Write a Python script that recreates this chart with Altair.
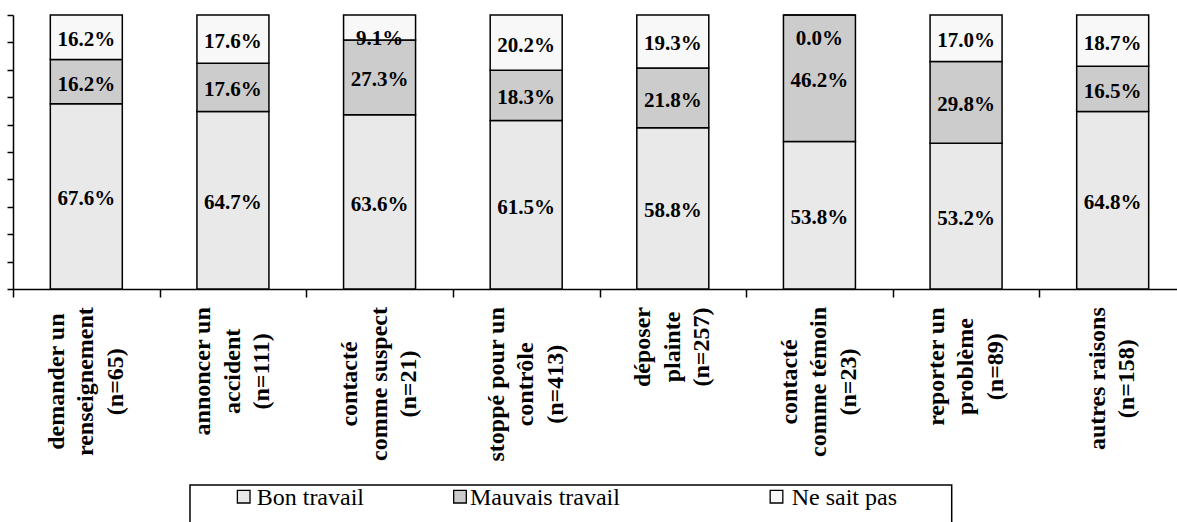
import altair as alt
import pandas as pd

# Categories (multi-line labels), series and values in percent
categories = [
    "demander un\nrenseignement\n(n=65)",
    "annoncer un\naccident\n(n=111)",
    "contacté\ncomme suspect\n(n=21)",
    "stoppé pour un\ncontrôle\n(n=413)",
    "déposer\nplainte\n(n=257)",
    "contacté\ncomme témoin\n(n=23)",
    "reporter un\nproblème\n(n=89)",
    "autres raisons\n(n=158)",
]
series = ["Bon travail", "Mauvais travail", "Ne sait pas"]
bon = [67.6, 64.7, 63.6, 61.5, 58.8, 53.8, 53.2, 64.8]
mauvais = [16.2, 17.6, 27.3, 18.3, 21.8, 46.2, 29.8, 16.5]
ne_sait_pas = [16.2, 17.6, 9.1, 20.2, 19.3, 0.0, 17.0, 18.7]
colors = ["#e9e9e9", "#cccccc", "#f8f8f8"]

FONT = "Liberation Serif, Times New Roman, serif"
CAT_FONT_SIZE = 24
LINE_HEIGHT = 29.5
LABEL_CEILING = 0.925  # value labels never sit higher than this

# Times-Bold advance widths (1/1000 em) for the glyphs used in category labels
TIMES_BOLD = {
    " ": 250, "(": 333, ")": 333, "=": 570,
    "a": 500, "b": 556, "c": 444, "d": 556, "e": 444, "f": 333, "g": 500,
    "h": 556, "i": 278, "l": 278, "m": 833, "n": 556, "o": 500, "p": 556,
    "r": 444, "s": 389, "t": 333, "u": 556, "x": 500,
    "é": 444, "è": 444, "ô": 500,
}
for d in "0123456789":
    TIMES_BOLD[d] = 500


def text_width(s, size):
    return sum(TIMES_BOLD.get(ch, 500) for ch in s) * size / 1000.0


# stacked segments, normalised to 100 %
rows = []
for i, cat in enumerate(categories):
    vals = [bon[i], mauvais[i], ne_sait_pas[i]]
    total = sum(vals)
    base = 0.0
    for s, v in zip(series, vals):
        frac = v / total
        rows.append(dict(cat=cat, series=s, value=v, y0=base, y1=base + frac,
                         mid=min(base + frac / 2, LABEL_CEILING),
                         label=f"{v:.1f}%"))
        base += frac
seg = pd.DataFrame(rows)

PLOT_W, PLOT_H = 1164, 274
X_RANGE = [0, 1173]
STEP = (X_RANGE[1] - X_RANGE[0]) / len(categories)

# category labels: rotated blocks whose longest line starts just below the axis
cat_rows = []
for cat in categories:
    lines = cat.split("\n")
    longest = max(text_width(line, CAT_FONT_SIZE) for line in lines)
    cat_rows.append(dict(cat=cat, text=cat, nlines=len(lines),
                         ly=PLOT_H + 18 + longest / 2))
cats = pd.DataFrame(cat_rows)

x_scale = alt.Scale(domain=categories, range=X_RANGE,
                    paddingInner=0.509, paddingOuter=0.2545)
y_scale = alt.Scale(domain=[0, 1], nice=False)
color_scale = alt.Scale(domain=series, range=colors)

# ticks sit halfway between neighbouring bars
x_axis = alt.Axis(labels=False, title=None, tickOffset=-STEP / 2,
                  tickSize=8, tickColor="black", tickWidth=1.5,
                  domainColor="black", domainWidth=1.5, grid=False)
y_axis = alt.Axis(values=[i / 10 for i in range(11)], labels=False,
                  title=None, tickSize=6, tickColor="black",
                  tickWidth=1.5, domainColor="black", domainWidth=1.5,
                  grid=False)

bars = alt.Chart(seg).mark_bar(stroke="black", strokeWidth=1.5).encode(
    x=alt.X("cat:N", scale=x_scale, sort=categories, axis=x_axis),
    y=alt.Y("y0:Q", scale=y_scale, axis=y_axis),
    y2="y1:Q",
    fill=alt.Fill("series:N", scale=color_scale, legend=None),
)

values = alt.Chart(seg).mark_text(
    font=FONT, fontWeight="bold", fontSize=21, color="black", dy=3,
    baseline="middle", align="center",
).encode(
    x=alt.X("cat:N", scale=x_scale, sort=categories, axis=x_axis),
    y=alt.Y("mid:Q", scale=y_scale, axis=y_axis),
    text="label:N",
)


def category_text(n):
    # a block of n rotated lines, shifted so that it is centred on its band
    # (dy runs across the lines once the text is rotated)
    return alt.Chart(cats).transform_filter(
        alt.datum.nlines == n
    ).mark_text(
        font=FONT, fontWeight="bold", fontSize=CAT_FONT_SIZE, color="black",
        angle=270, align="center", baseline="middle", lineBreak="\n",
        lineHeight=LINE_HEIGHT, dy=-(n - 1) * LINE_HEIGHT / 2,
    ).encode(
        x=alt.X("cat:N", scale=x_scale, sort=categories, axis=x_axis),
        y=alt.Y("ly:Q", scale=None, axis=None),
        text="text:N",
    )


# legend frame and entries
legend_items = pd.DataFrame({
    "series": series,
    "sx": [230.7, 447.0, 763.5],
    "tx": [243.7, 457.0, 778.7],
})

legend_box = alt.Chart(pd.DataFrame({"k": [0]})).mark_rect(
    fill="white", stroke="black", strokeWidth=1.5,
).encode(
    x=alt.value(177), x2=alt.value(938.7),
    y=alt.value(470), y2=alt.value(545),
)

legend_symbols = alt.Chart(legend_items).mark_point(
    shape="square", filled=True, size=160, stroke="black", strokeWidth=1.3,
    opacity=1,
).encode(
    x=alt.X("sx:Q", scale=None, axis=None),
    y=alt.value(481.7),
    fill=alt.Fill("series:N", scale=color_scale, legend=None),
)

legend_text = alt.Chart(legend_items).mark_text(
    font=FONT, fontSize=24, color="black", align="left", baseline="alphabetic",
).encode(
    x=alt.X("tx:Q", scale=None, axis=None),
    y=alt.value(490),
    text="series:N",
)

chart = alt.layer(
    bars, values, category_text(3), category_text(2),
    legend_box, legend_symbols, legend_text,
).properties(
    width=PLOT_W, height=PLOT_H,
    autosize=alt.AutoSizeParams(type="none"),
    padding={"left": 13, "top": 15, "right": 0, "bottom": 233},
    background="white",
).configure_view(stroke=None)

chart.save("out.html", embed_options={"renderer": "svg", "actions": False})
